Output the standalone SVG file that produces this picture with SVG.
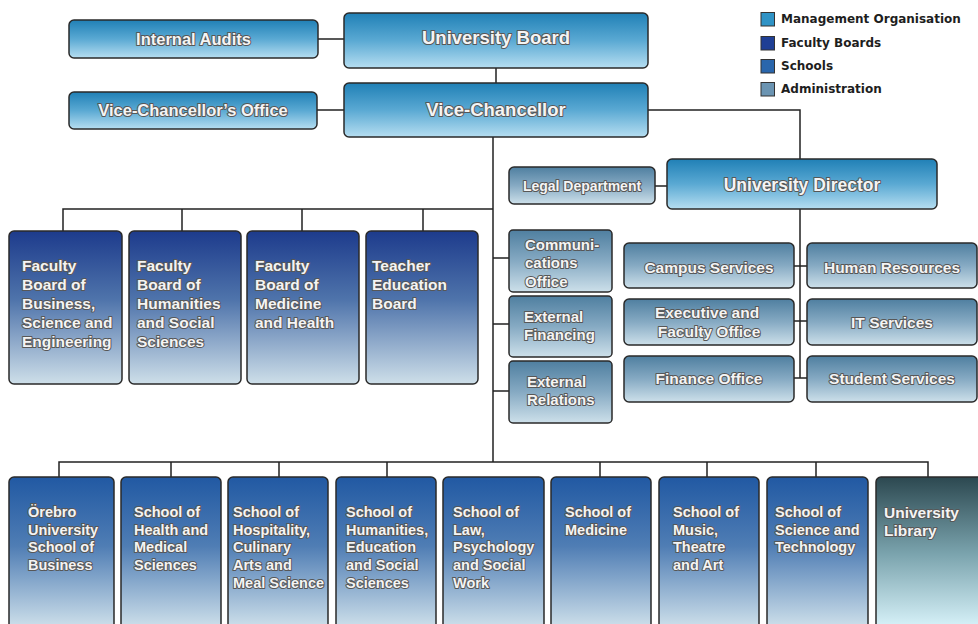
<svg xmlns="http://www.w3.org/2000/svg" width="978" height="624" viewBox="0 0 978 624">
<defs>
<linearGradient id="gM" x1="0" y1="0" x2="0" y2="1"><stop offset="0" stop-color="#2080b6"/><stop offset="0.5" stop-color="#5aa9d3"/><stop offset="1" stop-color="#b6def1"/></linearGradient>
<linearGradient id="gA" x1="0" y1="0" x2="0" y2="1"><stop offset="0" stop-color="#4f7fa0"/><stop offset="0.5" stop-color="#86aac3"/><stop offset="1" stop-color="#cde0ea"/></linearGradient>
<linearGradient id="gF" x1="0" y1="0" x2="0" y2="1"><stop offset="0" stop-color="#1d3b8c"/><stop offset="0.45" stop-color="#4f74ab"/><stop offset="1" stop-color="#cedfe9"/></linearGradient>
<linearGradient id="gS" gradientUnits="userSpaceOnUse" x1="0" y1="477" x2="0" y2="630"><stop offset="0" stop-color="#2159a3"/><stop offset="0.45" stop-color="#4f7db4"/><stop offset="1" stop-color="#d2e3ec"/></linearGradient>
<linearGradient id="gL" gradientUnits="userSpaceOnUse" x1="0" y1="477" x2="0" y2="630"><stop offset="0" stop-color="#2c4850"/><stop offset="0.5" stop-color="#7aa3ad"/><stop offset="1" stop-color="#dbf5fc"/></linearGradient>
<style>
.b{stroke:#2a2a2a;stroke-width:1.5}
.m{fill:url(#gM)}.a{fill:url(#gA)}.f{fill:url(#gF)}.s{fill:url(#gS)}.l{fill:url(#gL)}
.t{font-family:"Liberation Sans",Arial,sans-serif;font-weight:bold;fill:#f4f4f4;stroke:#575757;stroke-width:2;stroke-linejoin:round;paint-order:stroke}
.c{text-anchor:middle}
.lg{font-family:"DejaVu Sans",Verdana,sans-serif;font-weight:bold;font-size:12px;fill:#1e1e1e}
.cn{stroke:#222;stroke-width:1.5;fill:none}
</style>
</defs>
<rect width="978" height="624" fill="#ffffff"/>

<g id="legend">
<rect x="761" y="12.5" width="13.5" height="13.5" fill="#2f93c6" stroke="#333" stroke-width="1"/>
<text class="lg" x="781" y="23.3">Management Organisation</text>
<rect x="761" y="36.5" width="13.5" height="13.5" fill="#1f3f95" stroke="#333" stroke-width="1"/>
<text class="lg" x="781" y="47.3">Faculty Boards</text>
<rect x="761" y="59.5" width="13.5" height="13.5" fill="#2a66ac" stroke="#333" stroke-width="1"/>
<text class="lg" x="781" y="70.3">Schools</text>
<rect x="761" y="82.5" width="13.5" height="13.5" fill="#6b94b2" stroke="#333" stroke-width="1"/>
<text class="lg" x="781" y="93.3">Administration</text>
</g>

<g id="connectors">
<path class="cn" d="M318 39H344M317 110H344M496 68V83M648 110H800V159M493 137V462M655 186H667M800 209V378M794 266H807M794 321H807M794 378H807"/>
<path class="cn" d="M63 231V209H493M182 209V231M302 209V231M423 209V231"/>
<path class="cn" d="M493 258H509M493 324H509M493 391H509"/>
<path class="cn" d="M59 477V462H928V477M171 462V477M279 462V477M387 462V477M600 462V477M707 462V477M816 462V477"/>
</g>

<g id="internal-audits"><rect class="b m" x="69" y="20" width="249" height="38" rx="5"/><text class="t c" x="193.5" y="45" font-size="16.5">Internal Audits</text></g>
<g id="university-board"><rect class="b m" x="344" y="13" width="304" height="55" rx="5"/><text class="t c" x="496" y="44" font-size="18.5">University Board</text></g>
<g id="vc-office"><rect class="b m" x="69" y="92" width="248" height="37" rx="5"/><text class="t c" x="193" y="116" font-size="16.5">Vice-Chancellor’s Office</text></g>
<g id="vice-chancellor"><rect class="b m" x="344" y="83" width="304" height="54" rx="5"/><text class="t c" x="496" y="116" font-size="18.5">Vice-Chancellor</text></g>

<g id="legal"><rect class="b a" x="509" y="167" width="146" height="37" rx="5"/><text class="t c" x="582" y="191" font-size="14">Legal Department</text></g>
<g id="director"><rect class="b m" x="667" y="159" width="270" height="50" rx="5"/><text class="t c" x="802" y="190.5" font-size="17.5">University Director</text></g>

<g id="fb-business"><rect class="b f" x="9" y="231" width="113" height="153" rx="5"/><text class="t" font-size="15.5"><tspan x="22" y="270.5">Faculty</tspan><tspan x="22" y="289.7">Board of</tspan><tspan x="22" y="308.9">Business,</tspan><tspan x="22" y="328.1">Science and</tspan><tspan x="22" y="347.3">Engineering</tspan></text></g>
<g id="fb-humanities"><rect class="b f" x="129" y="231" width="112" height="153" rx="5"/><text class="t" font-size="15.5"><tspan x="137" y="270.5">Faculty</tspan><tspan x="137" y="289.7">Board of</tspan><tspan x="137" y="308.9">Humanities</tspan><tspan x="137" y="328.1">and Social</tspan><tspan x="137" y="347.3">Sciences</tspan></text></g>
<g id="fb-medicine"><rect class="b f" x="247" y="231" width="112" height="153" rx="5"/><text class="t" font-size="15.5"><tspan x="255" y="270.5">Faculty</tspan><tspan x="255" y="289.7">Board of</tspan><tspan x="255" y="308.9">Medicine</tspan><tspan x="255" y="328.1">and Health</tspan></text></g>
<g id="teacher-board"><rect class="b f" x="366" y="231" width="112" height="153" rx="5"/><text class="t" font-size="15.5"><tspan x="372" y="270.5">Teacher</tspan><tspan x="372" y="289.7">Education</tspan><tspan x="372" y="308.9">Board</tspan></text></g>

<g id="communications"><rect class="b a" x="509" y="230" width="103" height="62" rx="4"/><text class="t" font-size="15"><tspan x="525" y="249.5">Communi-</tspan><tspan x="525" y="268">cations</tspan><tspan x="525" y="286.5">Office</tspan></text></g>
<g id="ext-financing"><rect class="b a" x="509" y="296" width="103" height="61" rx="4"/><text class="t" font-size="15"><tspan x="524" y="321.5">External</tspan><tspan x="524" y="340">Financing</tspan></text></g>
<g id="ext-relations"><rect class="b a" x="509" y="361" width="103" height="62" rx="4"/><text class="t" font-size="15"><tspan x="527" y="386.5">External</tspan><tspan x="527" y="405">Relations</tspan></text></g>

<g id="campus"><rect class="b a" x="624" y="243" width="170" height="45" rx="5"/><text class="t c" x="709" y="272.5" font-size="15.5">Campus Services</text></g>
<g id="hr"><rect class="b a" x="807" y="243" width="170" height="45" rx="5"/><text class="t c" x="892" y="272.5" font-size="15.5">Human Resources</text></g>
<g id="executive"><rect class="b a" x="624" y="299" width="170" height="46" rx="5"/><text class="t c" font-size="15.5"><tspan x="707" y="317.5">Executive and</tspan><tspan x="709" y="336.5">Faculty Office</tspan></text></g>
<g id="it"><rect class="b a" x="807" y="299" width="170" height="46" rx="5"/><text class="t c" x="892" y="327.5" font-size="15.5">IT Services</text></g>
<g id="finance"><rect class="b a" x="624" y="356" width="170" height="46" rx="5"/><text class="t c" x="709" y="383.5" font-size="15.5">Finance Office</text></g>
<g id="student"><rect class="b a" x="807" y="356" width="170" height="46" rx="5"/><text class="t c" x="892" y="383.5" font-size="15.5">Student Services</text></g>

<g id="s-business"><rect class="b s" x="9" y="477" width="105" height="160" rx="5"/><text class="t" font-size="14.5"><tspan x="28" y="517">Örebro</tspan><tspan x="28" y="534.7">University</tspan><tspan x="28" y="552.4">School of</tspan><tspan x="28" y="570.1">Business</tspan></text></g>
<g id="s-health"><rect class="b s" x="121" y="477" width="100" height="160" rx="5"/><text class="t" font-size="14.5"><tspan x="134" y="517">School of</tspan><tspan x="134" y="534.7">Health and</tspan><tspan x="134" y="552.4">Medical</tspan><tspan x="134" y="570.1">Sciences</tspan></text></g>
<g id="s-hospitality"><rect class="b s" x="228" y="477" width="100" height="160" rx="5"/><text class="t" font-size="14.5"><tspan x="233" y="517">School of</tspan><tspan x="233" y="534.7">Hospitality,</tspan><tspan x="233" y="552.4">Culinary</tspan><tspan x="233" y="570.1">Arts and</tspan><tspan x="233" y="587.8">Meal Science</tspan></text></g>
<g id="s-humanities"><rect class="b s" x="336" y="477" width="100" height="160" rx="5"/><text class="t" font-size="14.5"><tspan x="346" y="517">School of</tspan><tspan x="346" y="534.7">Humanities,</tspan><tspan x="346" y="552.4">Education</tspan><tspan x="346" y="570.1">and Social</tspan><tspan x="346" y="587.8">Sciences</tspan></text></g>
<g id="s-law"><rect class="b s" x="443" y="477" width="101" height="160" rx="5"/><text class="t" font-size="14.5"><tspan x="453" y="517">School of</tspan><tspan x="453" y="534.7">Law,</tspan><tspan x="453" y="552.4">Psychology</tspan><tspan x="453" y="570.1">and Social</tspan><tspan x="453" y="587.8">Work</tspan></text></g>
<g id="s-medicine"><rect class="b s" x="551" y="477" width="100" height="160" rx="5"/><text class="t" font-size="14.5"><tspan x="565" y="517">School of</tspan><tspan x="565" y="534.7">Medicine</tspan></text></g>
<g id="s-music"><rect class="b s" x="659" y="477" width="100" height="160" rx="5"/><text class="t" font-size="14.5"><tspan x="673" y="517">School of</tspan><tspan x="673" y="534.7">Music,</tspan><tspan x="673" y="552.4">Theatre</tspan><tspan x="673" y="570.1">and Art</tspan></text></g>
<g id="s-science"><rect class="b s" x="767" y="477" width="101" height="160" rx="5"/><text class="t" font-size="14.5"><tspan x="775" y="517">School of</tspan><tspan x="775" y="534.7">Science and</tspan><tspan x="775" y="552.4">Technology</tspan></text></g>
<g id="library"><rect class="b l" x="876" y="477" width="110" height="160" rx="5"/><text class="t" font-size="15.5"><tspan x="884" y="517.5">University</tspan><tspan x="884" y="535.5">Library</tspan></text></g>
</svg>
